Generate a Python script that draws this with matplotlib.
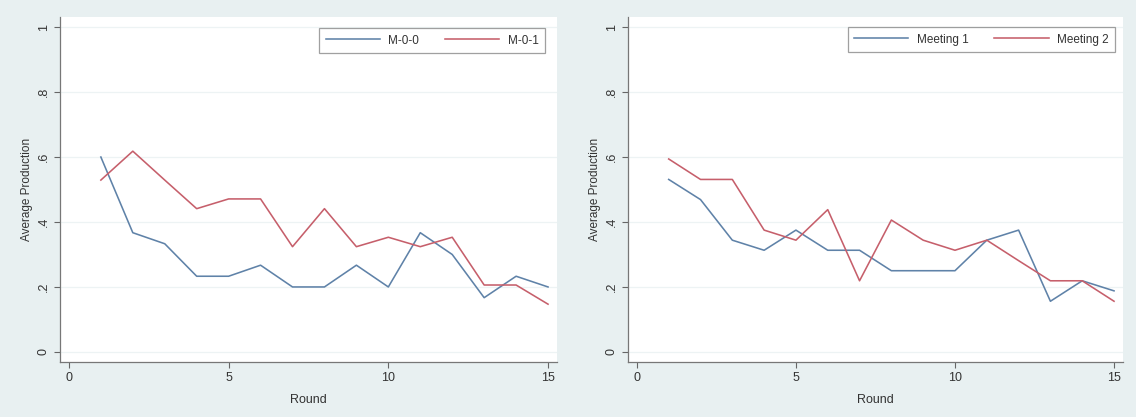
import matplotlib.pyplot as plt

rounds = list(range(1, 16))

# left panel: M-0-0 vs M-0-1
m00 = [0.600, 0.367, 0.333, 0.233, 0.233, 0.267, 0.200, 0.200,
       0.267, 0.200, 0.367, 0.300, 0.167, 0.233, 0.200]
m01 = [0.529, 0.618, 0.529, 0.441, 0.471, 0.471, 0.324, 0.441,
       0.324, 0.353, 0.324, 0.353, 0.206, 0.206, 0.147]

# right panel: meeting 1 vs meeting 2
meet1 = [0.531, 0.469, 0.344, 0.313, 0.375, 0.313, 0.313, 0.250,
         0.250, 0.250, 0.344, 0.375, 0.156, 0.219, 0.188]
meet2 = [0.594, 0.531, 0.531, 0.375, 0.344, 0.438, 0.219, 0.406,
         0.344, 0.313, 0.344, 0.281, 0.219, 0.219, 0.156]

panels = [
    (m00, m01, ['M-0-0', 'M-0-1'], [0.0528, 0.1319, 0.4375, 0.8273], (0.988, 0.985)),
    (meet1, meet2, ['Meeting 1', 'Meeting 2'], [0.5528, 0.1319, 0.4357, 0.8273], (0.996, 0.988)),
]

yticks = [0, 0.2, 0.4, 0.6, 0.8, 1.0]
ylabels = ['0', '.2', '.4', '.6', '.8', '1']
xticks = [0, 5, 10, 15]

bg = '#e8f0f1'
blue = '#5f82a8'
red = '#c65f6b'

plt.rcParams['font.family'] = ['Liberation Sans', 'DejaVu Sans']

fig = plt.figure(figsize=(11.36, 4.17), dpi=100)
fig.patch.set_facecolor(bg)

for s1, s2, names, pos, anchor in panels:
    ax = fig.add_axes(pos)
    ax.set_facecolor('white')
    for y in yticks:
        ax.axhline(y, color='#edf3f4', lw=0.9, zorder=0)
    ax.plot(rounds, s1, color=blue, lw=1.15, label=names[0])
    ax.plot(rounds, s2, color=red, lw=1.15, label=names[1])
    ax.set_xlim(-0.28, 15.28)
    ax.set_ylim(-0.031, 1.031)
    ax.set_xticks(xticks)
    ax.set_yticks(yticks)
    ax.set_yticklabels(ylabels, rotation=90, va='center')
    ax.tick_params(direction='out', length=4, width=0.8, colors='#666666',
                   labelcolor='#333333', labelsize=9)
    for side in ['top', 'right']:
        ax.spines[side].set_visible(False)
    for side in ['left', 'bottom']:
        ax.spines[side].set_color('#777777')
        ax.spines[side].set_linewidth(0.9)
    ax.set_xlabel('Round', fontsize=9, color='#333333', labelpad=7)
    ax.set_ylabel('Average Production', fontsize=8.5, color='#333333', labelpad=3)
    leg = ax.legend(ncol=2, loc='upper right', bbox_to_anchor=anchor,
                    fontsize=8.5, handlelength=4.6, columnspacing=2.2,
                    handletextpad=0.7, frameon=True, fancybox=False,
                    borderpad=0.55)
    leg.get_frame().set_edgecolor('#888888')
    leg.get_frame().set_linewidth(0.9)
    for t in leg.get_texts():
        t.set_color('#333333')

fig.savefig('out.png', dpi=100, facecolor=fig.get_facecolor())
